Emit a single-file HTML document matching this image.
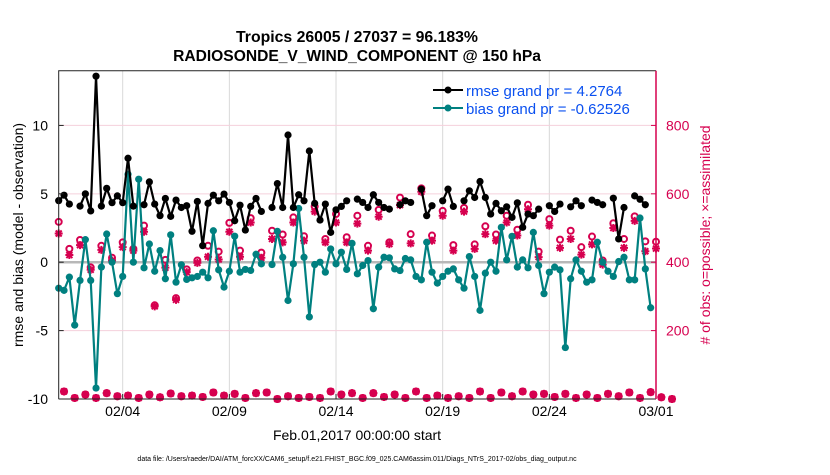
<!DOCTYPE html>
<html><head><meta charset="utf-8"><style>
body{margin:0;background:#fff;}
svg text{font-family:"Liberation Sans",sans-serif;}
</style></head><body>
<svg id="chart" width="830" height="470" xmlns="http://www.w3.org/2000/svg">
<g id="grid"></g>
<g id="series"></g>
<g id="axes"></g>
<text x="357" y="42" text-anchor="middle" font-size="15.8" font-weight="bold">Tropics 26005 / 27037 = 96.183%</text>
<text x="357" y="61" text-anchor="middle" font-size="15.6" font-weight="bold">RADIOSONDE_V_WIND_COMPONENT @ 150 hPa</text>
<text transform="translate(23,235) rotate(-90)" text-anchor="middle" font-size="14">rmse and bias (model - observation)</text>
<text transform="translate(710,235) rotate(-90)" text-anchor="middle" font-size="14" fill="#d6004f"># of obs: o=possible; ×=assimilated</text>
<text x="357" y="440" text-anchor="middle" font-size="14">Feb.01,2017 00:00:00 start</text>
<text x="357" y="461" text-anchor="middle" font-size="7">data file: /Users/raeder/DAI/ATM_forcXX/CAM6_setup/f.e21.FHIST_BGC.f09_025.CAM6assim.011/Diags_NTrS_2017-02/obs_diag_output.nc</text>
<g>
<line x1="433" y1="90" x2="463" y2="90" stroke="#000" stroke-width="2"/><circle cx="448" cy="90" r="3.5" fill="#000"/>
<text x="466" y="96" font-size="15" fill="#0a50f0">rmse grand pr = 4.2764</text>
<line x1="433" y1="108" x2="463" y2="108" stroke="#008080" stroke-width="2"/><circle cx="448" cy="108" r="3.5" fill="#008080"/>
<text x="466" y="114" font-size="15" fill="#0a50f0">bias grand pr = -0.62526</text>
</g>
</svg>
<script>
const N = null;
const rmse = [4.5,4.9,4.25,N,4.1,5.0,3.75,13.6,4.1,5.4,4.35,4.85,4.35,7.6,4.1,N,4.2,5.87,4.25,3.4,4.66,3.35,4.54,4.0,4.13,2.26,4.44,1.21,4.3,4.9,4.49,4.98,4.37,3.03,4.17,2.35,4.08,4.66,3.71,N,4.0,5.75,4.0,9.3,4.0,4.93,4.49,8.13,4.3,3.08,4.25,2.18,3.83,4.08,4.49,N,4.61,4.37,4.0,4.93,4.37,4.0,3.88,N,4.2,4.49,4.37,N,5.34,3.4,4.13,N,4.49,5.34,4.08,N,4.49,5.22,4.73,5.9,4.73,3.52,4.3,3.76,4.05,3.28,4.34,2.55,3.52,3.4,3.88,N,4.13,3.71,4.25,N,4.05,4.49,4.13,N,4.54,4.37,4.2,N,4.68,1.7,4.0,N,4.85,4.6,4.2,N,N];
const bias = [-1.9,-2.06,-1.09,-4.6,-1.33,1.65,-1.33,-9.2,-0.36,2.06,0,-2.3,-1.04,6.43,0,6.07,-0.41,1.33,-0.66,0.85,-1.21,2.0,-1.46,-0.19,-1.26,-1.14,-1.04,-0.73,-1.14,2.3,-0.56,-1.82,-0.66,1.9,-0.73,-0.53,-0.6,0.58,-0.12,N,-0.17,2.26,0.36,-2.8,-0.12,3.93,0.36,-4.0,-0.17,0,-0.73,0.97,-0.12,0.73,-0.53,1.38,-0.85,-0.24,0.12,-3.4,-0.36,0.36,0.32,-0.49,-0.61,0.27,0.17,-1.04,-1.29,1.46,-0.73,-1.53,-1.04,-0.66,-0.49,-1.29,-1.9,0.41,-1.04,-3.52,-0.8,0,-0.66,2.55,0.17,1.89,-0.36,0.17,-0.41,2.18,-0.24,-2.3,-0.73,-0.36,-0.56,-6.24,-1.21,0.17,-0.66,-1.46,-1.29,1.46,0,-0.66,-1.04,0.05,0.36,-1.29,-1.29,3.23,-0.49,-3.33,N];
// obs counts at 00Z/12Z (even index) and 06Z/18Z (odd index)
const possEven = [518,439,465,385,448,413,458,439,507,274,407,295,379,405,448,431,515,434,529,428,492,481,531,476,563,468,541,473,536,448,553,458,589,482,616,478,550,450,559,452,505,481,536,495,568,431,526,466,492,444,475,405,514,468,534,461,460];
const assimEven = [484,421,450,378,436,405,444,434,489,271,384,290,371,398,416,408,489,416,516,413,468,458,516,463,548,458,516,458,513,434,533,453,567,455,606,463,536,434,548,439,482,463,516,478,555,415,507,442,468,422,452,393,500,442,521,432,440];
const obsOdd = [22,3,13,3,17,8,10,3,13,5,16,8,10,6,19,10,15,3,17,19,0,8,3,6,3,22,13,17,3,17,6,13,3,22,3,10,3,8,3,22,3,19,8,22,13,15,6,15,3,13,3,15,8,19,3,20,5,0];
const xTicks = [3,8,13,18,23,28];
const xTickLabels = ["02/04","02/09","02/14","02/19","02/24","03/01"];
const yTicks = [-10,-5,0,5,10];
const rTicks = [200,400,600,800];

const L=58.7,R=656,T=70.7,B=399;
const yMin=-10,yMax=14, rMin=0,rMax=960, dMax=28;
const X = d => L + d/dMax*(R-L);
const Y = v => B - (v-yMin)/(yMax-yMin)*(B-T);
const YR = v => B - (v-rMin)/(rMax-rMin)*(B-T);
const ns="http://www.w3.org/2000/svg";
function mk(tag,parent,attrs){const e=document.createElementNS(ns,tag);for(const k in attrs)e.setAttribute(k,attrs[k]);parent.appendChild(e);return e;}
const grid=document.getElementById('grid'), ser=document.getElementById('series'), ax=document.getElementById('axes');

xTicks.forEach((d,i)=>{
  const g=mk('line',grid,{x1:X(d),x2:X(d),y1:T,y2:B,stroke:'#d8d8d8','stroke-width':1});
  
  
  const t=mk('text',ax,{x:X(d),y:416,'text-anchor':'middle','font-size':14});
  t.textContent=xTickLabels[i];
  
  
  mk('line',ax,{x1:X(d),x2:X(d),y1:B,y2:B-5,stroke:'#222'});
});
rTicks.forEach(v=>{
  const g=mk('line',grid,{x1:L,x2:R,y1:YR(v),y2:YR(v),stroke:'#f5d0dc','stroke-width':1});
  
  
  const t=mk('text',ax,{x:R+10,y:YR(v)+5,'font-size':14,fill:'#d6004f'});
  t.textContent=v;
  
  
  mk('line',ax,{x1:R,x2:R-5,y1:YR(v),y2:YR(v),stroke:'#d6004f'});
});
yTicks.forEach(v=>{
  const t=mk('text',ax,{x:48,y:Y(v)+5,'text-anchor':'end','font-size':14});
  t.textContent=v;
  
  
  mk('line',ax,{x1:L,x2:L+5,y1:Y(v),y2:Y(v),stroke:'#222'});
});
const z=mk('line',grid,{x1:L,x2:R,y1:Y(0),y2:Y(0),stroke:'#b8b8b8','stroke-width':2.5});


const fr=mk('path',ax,{d:`M${L},${B}V${T}H${R}M${L},${B}H${R}`,fill:'none',stroke:'#222','stroke-width':1});


const ra=mk('line',ax,{x1:R,x2:R,y1:T,y2:B,stroke:'#d6004f','stroke-width':1.5});



const pink='#d6004f';
function star(x,y,name){
  const g=mk('path',ser,{d:`M${x-4},${y}H${x+4}M${x},${y-4}V${y+4}M${x-3},${y-3}L${x+3},${y+3}M${x-3},${y+3}L${x+3},${y-3}`,stroke:pink,'stroke-width':2});
  
  
}
function ring(x,y,name){
  const c=mk('circle',ser,{cx:x,cy:y,r:3,fill:'none',stroke:pink,'stroke-width':2});
  
  
}
possEven.forEach((v,k)=>ring(X(k*2/4),YR(v),'possible-obs-marker'));
assimEven.forEach((v,k)=>star(X(k*2/4),YR(v),'assimilated-obs-marker'));
obsOdd.forEach((v,k)=>{ring(X((k*2+1)/4),YR(v),'possible-obs-marker');star(X((k*2+1)/4),YR(v),'assimilated-obs-marker');});

function series(arr,color,name){
  let d='',pen=false;
  arr.forEach((v,i)=>{ if(v===null){pen=false;return;} d+=(pen?'L':'M')+X(i/4)+','+Y(v); pen=true;});
  const p=mk('path',ser,{d:d,fill:'none',stroke:color,'stroke-width':2.2,'stroke-linejoin':'round'});
  
  
  arr.forEach((v,i)=>{ if(v===null)return;
    const c=mk('circle',ser,{cx:X(i/4),cy:Y(v),r:3.6,fill:color});
    
    
  });
}
series(bias,'#008080','bias');
series(rmse,'#000000','rmse');
</script>
</body></html>
